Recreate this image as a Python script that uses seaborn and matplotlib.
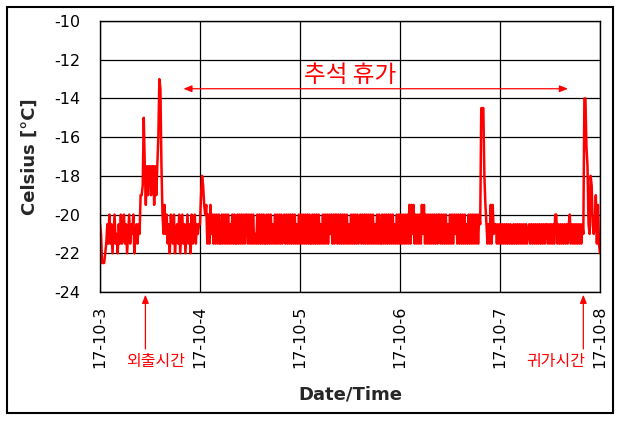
import matplotlib
matplotlib.use('Agg')
import matplotlib.pyplot as plt
import matplotlib.dates as mdates
from matplotlib.patches import Rectangle
import pandas as pd
import seaborn as sns

# temperature readings every 15 min, one list per day, 8 values = 2 hours
day3 = [-20.5, -21, -22.5, -22.5, -22.5, -22, -21.5, -20.5,
        -21.5, -20, -21.5, -20.5, -22, -21, -20, -21.5,
        -21, -22, -20.5, -21.5, -20, -21.5, -21, -20,
        -21.5, -20.5, -22, -21, -20, -21.5, -20.5, -21,
        -20, -22, -21, -20.5, -21.5, -20.5, -21, -19,
        -19, -18.5, -15, -17.5, -19.5, -17.5, -19, -17.5,
        -17.5, -19, -17.5, -17.5, -19.5, -17.5, -19, -17.5,
        -16, -13, -13.5, -17.5, -20, -21, -19.5, -21,
        -20, -21.5, -20.5, -22, -20, -21, -21.5, -20,
        -22, -21, -20.5, -21.5, -20, -22, -21, -20,
        -21.5, -20.5, -22, -21, -20, -21.5, -20.5, -22,
        -20, -21.5, -21, -20, -21.5, -20.5, -21, -20.5]
day4 = [-20.5, -19, -18, -18.5, -19.5, -20, -19.5, -21.5,
        -20, -21.5, -19.5, -21, -20, -21.5, -20, -21.5,
        -20, -21.5, -20, -21.5, -21.5, -20, -21.5, -20,
        -21.5, -20, -21.5, -20, -21.5, -20.5, -21.5, -20,
        -21.5, -20, -21.5, -21.5, -20, -21.5, -20, -21.5,
        -20, -21.5, -20, -21.5, -20, -20, -21.5, -20,
        -21.5, -20, -21.5, -20, -21.5, -21, -21.5, -20,
        -21.5, -20, -21.5, -20, -21.5, -20, -21.5, -21.5,
        -20, -21.5, -20, -21.5, -20, -21.5, -20.5, -21.5,
        -20, -21.5, -20, -21.5, -20, -21.5, -20, -21.5,
        -21, -20, -21.5, -20, -21.5, -20, -21.5, -20,
        -21.5, -20, -21.5, -20, -21.5, -20.5, -21.5, -20]
day5 = [-21.5, -20, -21.5, -20, -21.5, -20, -21.5, -20,
        -21.5, -20, -21.5, -21.5, -20, -21.5, -20, -21.5,
        -20, -21.5, -20, -21.5, -20.5, -21.5, -20, -21.5,
        -20, -21.5, -20, -21.5, -20, -21, -20, -21.5,
        -20, -21.5, -20, -20, -21.5, -20, -21.5, -20,
        -21.5, -20, -21.5, -20, -21.5, -20, -21.5, -20.5,
        -21.5, -20, -21.5, -20, -21.5, -20, -21.5, -20,
        -21.5, -21, -20, -21.5, -20, -21.5, -20, -21.5,
        -20, -21.5, -20, -21.5, -20, -21.5, -20, -21.5,
        -20.5, -21.5, -20, -21.5, -20, -21.5, -21.5, -20,
        -21.5, -20, -21.5, -20, -21.5, -20, -21.5, -20,
        -21.5, -20, -21.5, -20.5, -21.5, -20, -21.5, -20]
day6 = [-21.5, -20, -21.5, -20, -21.5, -20, -21.5, -20,
        -21.5, -19.5, -21.5, -19.5, -21, -19.5, -21.5, -20,
        -21.5, -20, -21.5, -20, -21.5, -19.5, -21, -19.5,
        -21.5, -20, -21.5, -20, -21.5, -20, -21.5, -20,
        -21.5, -20, -21.5, -20, -21.5, -20, -20, -21.5,
        -20, -21.5, -20, -21.5, -20, -21.5, -20.5, -21.5,
        -20, -21.5, -20, -21.5, -20, -21, -20, -21.5,
        -20, -21.5, -20, -21.5, -20, -21.5, -20, -21.5,
        -20.5, -21.5, -20, -21.5, -20, -21.5, -20, -21.5,
        -20, -21.5, -20, -21.5, -20, -20.5, -14.5, -14.5,
        -14.5, -18, -19.5, -20.5, -21.5, -20.5, -21.5, -19.5,
        -21.5, -19.5, -21, -20.5, -20.5, -21.5, -20.5, -21.5]
day7 = [-20.5, -21.5, -20.5, -21.5, -20.5, -21.5, -20.5, -21.5,
        -20.5, -21.5, -20.5, -21.5, -21.5, -20.5, -21.5, -20.5,
        -21.5, -20.5, -21.5, -20.5, -21.5, -20.5, -21.5, -20.5,
        -21.5, -20.5, -21.5, -21, -20.5, -21.5, -20.5, -21.5,
        -20.5, -21.5, -20.5, -21.5, -20.5, -21.5, -20.5, -21.5,
        -20.5, -21.5, -20.5, -21.5, -20.5, -20.5, -21.5, -20.5,
        -21.5, -20.5, -21.5, -20.5, -21.5, -20, -20, -21.5,
        -20.5, -21.5, -20.5, -21.5, -20.5, -21.5, -20.5, -21.5,
        -20.5, -21.5, -20.5, -20, -21.5, -20.5, -21.5, -20.5,
        -21.5, -20.5, -21.5, -20.5, -21.5, -20.5, -21.5, -20.5,
        -21, -14, -14, -16.5, -17.5, -20.5, -21, -18,
        -18.5, -20.5, -21, -20.5, -19, -21.5, -19.5, -21.5]
last_value = [-22]

day_labels = ['17-10-3', '17-10-4', '17-10-5', '17-10-6', '17-10-7', '17-10-8']
holiday_start = '2017-10-03 20:00'
holiday_end = '2017-10-07 16:20'
outing_time = '2017-10-03 10:54'
return_time = '2017-10-07 20:00'

temps = day3 + day4 + day5 + day6 + day7 + last_value
times = pd.date_range('2017-10-03', periods=len(temps), freq='15min')
df = pd.DataFrame({'time': times, 'celsius': temps})

sns.set_style('white')
plt.rcParams['font.family'] = ['DejaVu Sans', 'Noto Sans CJK KR']
plt.rcParams['axes.unicode_minus'] = False
kfont = ['Noto Sans CJK KR', 'DejaVu Sans']

fig = plt.figure(figsize=(6.22, 4.21), dpi=100)
ax = fig.add_axes([100/622, 129/421, 500/622, 271/421])
sns.lineplot(data=df, x='time', y='celsius', color='#ff0000', linewidth=1.8, ax=ax)

day_ticks = pd.date_range('2017-10-03', periods=len(day_labels), freq='D')
ax.set_xlim(day_ticks[0], day_ticks[-1])
ax.set_xticks(day_ticks)
ax.set_xticklabels(day_labels, rotation=90)
ax.xaxis.set_minor_locator(mdates.HourLocator(byhour=[6, 12, 18]))
ax.set_ylim(-24, -10)
ax.set_yticks(range(-24, -9, 2))

ax.grid(True, which='major', color='black', linewidth=0.9)
for s in ax.spines.values():
    s.set_color('black')
    s.set_linewidth(1.0)
ax.tick_params(axis='y', length=0, pad=14, labelsize=11.5, labelcolor='black')
ax.tick_params(axis='x', which='major', length=0, pad=10, labelsize=11.5, labelcolor='black')
ax.tick_params(axis='x', which='minor', direction='in', length=5, width=1, color='black')

ax.set_ylabel('Celsius [°C]', fontsize=13, fontweight='bold')
ax.yaxis.set_label_coords(-0.122, 0.5)
ax.set_xlabel('Date/Time', fontsize=13, fontweight='bold')
ax.xaxis.set_label_coords(0.5, -0.345)

# holiday span
d2n = lambda t: mdates.date2num(pd.Timestamp(t))
ax.annotate('', xy=(d2n(holiday_start), -13.5), xytext=(d2n(holiday_end), -13.5),
            arrowprops=dict(arrowstyle='<|-|>,head_length=0.5,head_width=0.2',
                            color='red', lw=0.9, shrinkA=0, shrinkB=0))
ax.text(0.5, 0.8, '추석 휴가', transform=ax.transAxes, color='red', fontsize=17,
        ha='center', va='center', family=kfont)

# going out / coming home marks below the axis
for t, label, tx in [(outing_time, '외출시간', 0.112), (return_time, '귀가시간', 0.912)]:
    ax.annotate('', xy=(d2n(t), -0.01), xycoords=('data', 'axes fraction'),
                xytext=(d2n(t), -0.21), textcoords=('data', 'axes fraction'),
                arrowprops=dict(arrowstyle='-|>,head_length=0.5,head_width=0.2',
                                color='red', lw=0.9, shrinkA=0, shrinkB=0),
                annotation_clip=False)
    ax.text(tx, -0.255, label, transform=ax.transAxes, color='red', fontsize=11.5,
            ha='center', va='center', family=kfont)

fig.patches.append(Rectangle((7/622, 8/421), 606/622, 406/421, transform=fig.transFigure,
                             fill=False, edgecolor='black', linewidth=1.5))

fig.savefig('out.png', dpi=100)
